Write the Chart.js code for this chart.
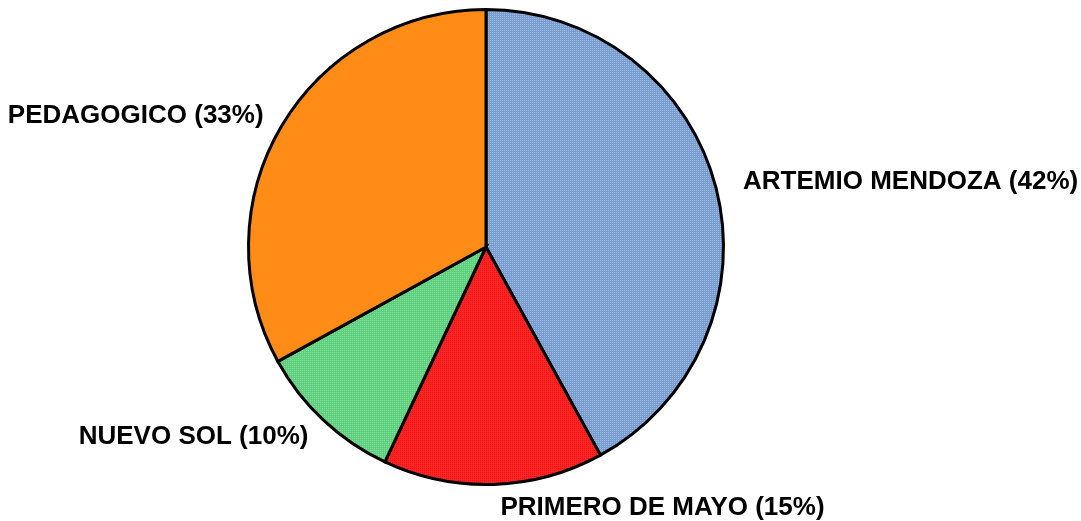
<!DOCTYPE html>
<html>
<head>
<meta charset="utf-8">
<script src="https://cdn.jsdelivr.net/npm/chart.js@4/dist/chart.umd.min.js"></script>
<style>
  html, body { margin: 0; padding: 0; background: #ffffff; }
  #wrap { width: 1081px; height: 521px; position: relative; }
</style>
</head>
<body>
<div id="wrap"><canvas id="c" width="1081" height="521"></canvas></div>
<script>
const categories = ["ARTEMIO MENDOZA", "PRIMERO DE MAYO", "NUEVO SOL", "PEDAGOGICO"];
const values = [42, 15, 10, 33];
const percentLabels = ["42%", "15%", "10%", "33%"];

// styling
const baseColors = ["#7a9dcf", "#ff2424", "#5ed07e", "#ff8c16"];
const dotColors  = ["#9bb8e0", "#e41818", "#80dc9a", null];
// label offsets from the arc's outer mid-point: [dx, dy, align]
const labelPlacement = [[27, -6, "left"], [7, 23, "left"], [-15, 17, "right"], [-18, -10, "right"]];

function makePattern(base, dot) {
  const p = document.createElement("canvas");
  p.width = 4; p.height = 4;
  const g = p.getContext("2d");
  g.fillStyle = base; g.fillRect(0, 0, 4, 4);
  if (dot) {
    g.fillStyle = dot;
    g.fillRect(0, 0, 1, 1);
    g.fillRect(2, 2, 1, 1);
    g.fillRect(2, 0, 1, 1);
    g.fillRect(0, 2, 1, 1);
  }
  return document.getElementById("c").getContext("2d").createPattern(p, "repeat");
}
const fills = baseColors.map((b, i) => makePattern(b, dotColors[i]));

const labelPlugin = {
  id: "outerLabels",
  afterDatasetsDraw(chart) {
    const ctx = chart.ctx;
    const meta = chart.getDatasetMeta(0);
    ctx.save();
    ctx.font = "bold 26px 'Liberation Sans', Arial, sans-serif";
    ctx.fillStyle = "#000000";
    ctx.textBaseline = "middle";
    meta.data.forEach((arc, i) => {
      const mid = (arc.startAngle + arc.endAngle) / 2;
      const x = arc.x + Math.cos(mid) * arc.outerRadius;
      const y = arc.y + Math.sin(mid) * arc.outerRadius;
      const [dx, dy, align] = labelPlacement[i];
      ctx.textAlign = align;
      ctx.fillText(categories[i] + " (" + percentLabels[i] + ")", x + dx, y + dy);
    });
    ctx.restore();
  }
};

new Chart(document.getElementById("c"), {
  type: "pie",
  data: {
    labels: categories,
    datasets: [{
      data: values,
      backgroundColor: fills,
      borderColor: "#000000",
      borderWidth: 3,
      borderJoinStyle: "miter"
    }]
  },
  options: {
    responsive: false,
    animation: false,
    layout: { padding: { left: 247, right: 356, top: 8, bottom: 35 } },
    plugins: {
      legend: { display: false },
      tooltip: { enabled: false },
      title: { display: false }
    }
  },
  plugins: [labelPlugin]
});
</script>
</body>
</html>
